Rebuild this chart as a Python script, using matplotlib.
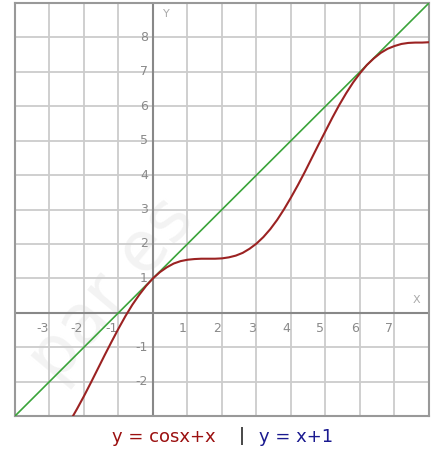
import numpy as np
import matplotlib.pyplot as plt
from matplotlib.transforms import offset_copy

# curve y = cosx + x
curve_x = [-2.4, -2.2, -2.0, -1.8, -1.6, -1.4, -1.2, -1.0, -0.8, -0.6, -0.4, -0.2,
           0.0, 0.2, 0.4, 0.6, 0.8, 1.0, 1.2, 1.4, 1.6, 1.8, 2.0, 2.2, 2.4, 2.6,
           2.8, 3.0, 3.2, 3.4, 3.6, 3.8, 4.0, 4.2, 4.4, 4.6, 4.8, 5.0, 5.2, 5.4,
           5.6, 5.8, 6.0, 6.2, 6.4, 6.6, 6.8, 7.0, 7.2, 7.4, 7.6, 7.8, 8.0]
curve_y = [-3.14, -2.79, -2.42, -2.03, -1.63, -1.23, -0.84, -0.46, -0.10, 0.23, 0.52, 0.78,
           1.00, 1.18, 1.32, 1.43, 1.50, 1.54, 1.56, 1.57, 1.57, 1.57, 1.58, 1.61, 1.66, 1.74,
           1.86, 2.01, 2.20, 2.43, 2.70, 3.01, 3.35, 3.71, 4.09, 4.49, 4.89, 5.28, 5.67, 6.04,
           6.38, 6.69, 6.96, 7.20, 7.39, 7.55, 7.67, 7.75, 7.81, 7.84, 7.85, 7.85, 7.86]

# line y = x + 1
line_x = [-4, 8]
line_y = [-3, 9]

x_labels = [-3, -2, -1, 1, 2, 3, 4, 5, 6, 7]
y_labels = [8, 7, 6, 5, 4, 3, 2, 1, -1, -2]

W, H = 439, 452
fig = plt.figure(figsize=(W / 100, H / 100), dpi=100)
ax = fig.add_axes([15 / W, 1 - 417 / H, 414 / W, 413 / H])

ax.set_xlim(-4, 8)
ax.set_ylim(-3, 9)
ax.set_xticks(np.arange(-4, 9))
ax.set_yticks(np.arange(-3, 10))
ax.tick_params(length=0, labelbottom=False, labelleft=False)
ax.grid(True, color="#cccccc", linewidth=1.3, zorder=1)
for s in ax.spines.values():
    s.set_color("#999999")
    s.set_linewidth(1.5)

# watermark
ax.text(-1.2, 0.7, "par es", fontsize=50, color="#f3f3f3", rotation=50,
        ha="center", va="center", zorder=0.5)

ax.axhline(0, color="#888888", linewidth=1.5, zorder=2)
ax.axvline(0, color="#888888", linewidth=1.5, zorder=2)

ax.plot(line_x, line_y, color="#3aa43a", linewidth=1.2, zorder=3)
ax.plot(curve_x, curve_y, color="#9b2222", linewidth=1.5, zorder=4)

tc = "#8a8a8a"
tr_x = offset_copy(ax.transData, fig=fig, x=-1, y=-8, units="dots")
for v in x_labels:
    ax.text(v, 0, str(v), transform=tr_x, ha="right", va="top", fontsize=9, color=tc)
tr_y = offset_copy(ax.transData, fig=fig, x=-5, y=1, units="dots")
for v in y_labels:
    ax.text(0, v, str(v), transform=tr_y, ha="right", va="center", fontsize=9, color=tc)

ax.text(0.3, 8.7, "Y", ha="left", va="center", fontsize=8, color="#aaaaaa")
ax.text(7.65, 0.4, "X", ha="center", va="center", fontsize=8, color="#aaaaaa")

fs = 13
fig.text(112 / W, 1 - 437 / H, "y = cosx+x", color="#9b1010", fontsize=fs, ha="left", va="center")
fig.text(242 / W, 1 - 436 / H, "|", color="#111111", fontsize=fs, ha="center", va="center")
fig.text(259 / W, 1 - 437 / H, "y = x+1", color="#1a1a90", fontsize=fs, ha="left", va="center")

fig.savefig("out.png", dpi=100)
